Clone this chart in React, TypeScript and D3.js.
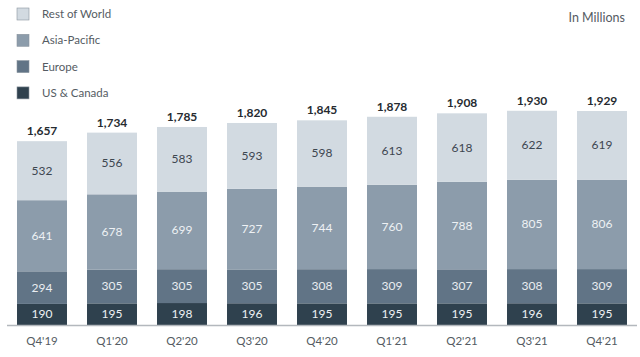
import React from "react";
import * as d3 from "d3";

const quarters = ["Q4'19", "Q1'20", "Q2'20", "Q3'20", "Q4'20", "Q1'21", "Q2'21", "Q3'21", "Q4'21"];
const usCanada = [190, 195, 198, 196, 195, 195, 195, 196, 195];
const europe = [294, 305, 305, 305, 308, 309, 307, 308, 309];
const asiaPacific = [641, 678, 699, 727, 744, 760, 788, 805, 806];
const restOfWorld = [532, 556, 583, 593, 598, 613, 618, 622, 619];
const totals = [1657, 1734, 1785, 1820, 1845, 1878, 1908, 1930, 1929];

const seriesNames = ["US & Canada", "Europe", "Asia-Pacific", "Rest of World"];
const seriesValues = [usCanada, europe, asiaPacific, restOfWorld];
const colors = ["#2f414e", "#617486", "#8c9cab", "#d2dae1"];
const labelColors = ["#eef1f4", "#e9edf1", "#eef1f4", "#3d4650"];

const W = 640;
const H = 357;
const baseline = 325;
const FONT = "Lato, 'Open Sans', sans-serif";

export default function App() {
  const x = d3.scaleBand().domain(quarters).range([7, 637]).paddingInner(0.286).paddingOuter(0.143);
  const y = d3.scaleLinear().domain([0, 1929]).range([baseline, 111]);

  const rows = quarters.map((q, i) => {
    const r: any = { q };
    seriesNames.forEach((s, k) => (r[s] = seriesValues[k][i]));
    return r;
  });
  const stacked = d3.stack().keys(seriesNames)(rows);

  return (
    <svg width={W} height={H} style={{ position: "absolute", left: 0, top: 0, background: "#fff" }}>
      {/* legend */}
      {seriesNames
        .slice()
        .reverse()
        .map((s, i) => {
          const k = seriesNames.length - 1 - i;
          return (
            <g key={s} transform={`translate(17, ${8 + i * 26.3})`}>
              <rect x={0} y={0} width={12} height={12} fill={colors[k]} stroke="#8a959f" strokeWidth={0.6} />
              <text x={25} y={10} fontFamily={FONT} fontSize={11.5} fill="#555c63">
                {s}
              </text>
            </g>
          );
        })}
      <text x={625} y={22} textAnchor="end" fontFamily={FONT} fontSize={12.5} fill="#555c63">
        In Millions
      </text>

      {stacked.map((layer, k) => (
        <g key={layer.key}>
          {layer.map((d, i) => {
            const y0 = y(d[0]);
            const y1 = y(d[1]);
            const xx = x(quarters[i])!;
            return (
              <g key={i}>
                <rect x={xx} y={y1} width={x.bandwidth()} height={y0 - y1} fill={colors[k]} />
                <text
                  x={xx + x.bandwidth() / 2}
                  y={(y0 + y1) / 2 + 4}
                  textAnchor="middle"
                  fontFamily={FONT}
                  fontSize={12}
                  fill={labelColors[k]}
                >
                  {seriesValues[k][i]}
                </text>
              </g>
            );
          })}
        </g>
      ))}

      {quarters.map((q, i) => (
        <text
          key={q}
          x={x(q)! + x.bandwidth() / 2}
          y={y(totals[i]) - 6}
          textAnchor="middle"
          fontFamily={FONT}
          fontSize={12}
          fontWeight="bold"
          fill="#262b30"
        >
          {d3.format(",")(totals[i])}
        </text>
      ))}

      <line x1={7} x2={637} y1={baseline + 0.5} y2={baseline + 0.5} stroke="#b3b8bd" strokeWidth={1.5} />

      {quarters.map((q) => (
        <text
          key={q}
          x={x(q)! + x.bandwidth() / 2}
          y={345}
          textAnchor="middle"
          fontFamily={FONT}
          fontSize={11.5}
          fill="#555c63"
        >
          {q}
        </text>
      ))}
    </svg>
  );
}
